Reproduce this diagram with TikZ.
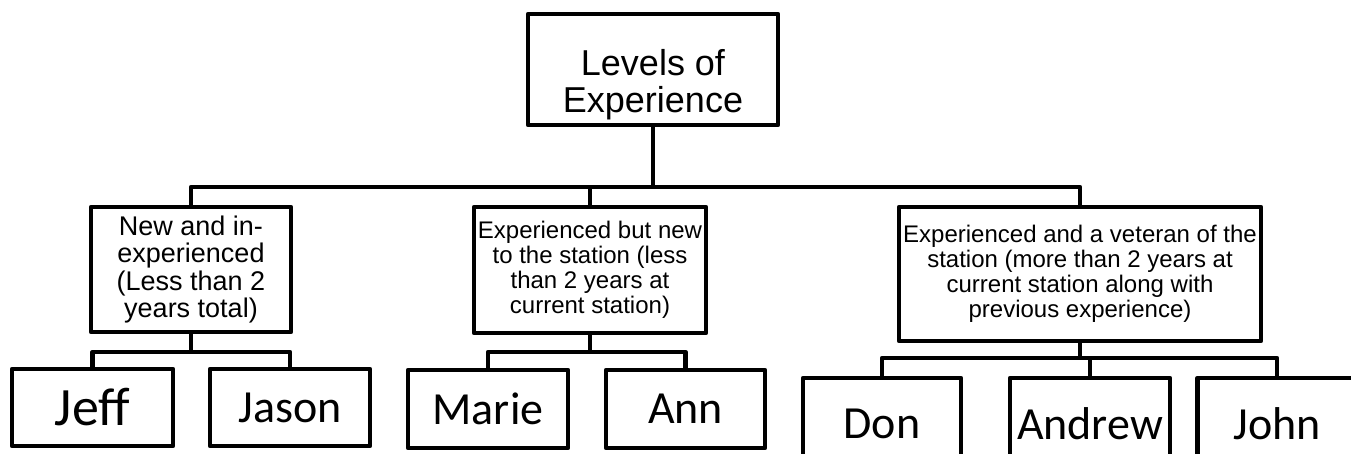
\documentclass[tikz,border=0pt]{standalone}
\usepackage{fontspec}
\setmainfont{Liberation Sans}
\newfontfamily\namefont{Carlito}
\usepackage{tikz}

\tikzset{
  lvlbox/.style={draw, line width=4.5pt, line join=round, inner sep=0pt, align=center},
  namebox/.style={lvlbox, font=\namefont\fontsize{46}{50}\selectfont},
  link/.style={line width=4.5pt, line join=round},
}

\begin{document}
\begin{tikzpicture}[x=1pt,y=1pt,yscale=-1,xscale=1]
\path[use as bounding box, clip] (0,0) rectangle (1351,453);

% Top box
\node [lvlbox, minimum width=250, minimum height=111] (top) at (653,69.5) {};
\node [inner sep=0pt, align=center, font=\fontsize{36}{37}\selectfont] (toptxt) at (653,85) {Levels of\\Experience};

% Level boxes
\node [lvlbox, minimum width=200, minimum height=125, font=\fontsize{27}{27.5}\selectfont] (newexp) at (191,269.5)
  {New and in-\\experienced\\(Less than 2\\years total)};
\node [lvlbox, minimum width=232, minimum height=126, font=\fontsize{24}{25}\selectfont] (newstn) at (590,270)
  {Experienced but new\\to the station (less\\than 2 years at\\current station)};
\node [lvlbox, minimum width=362, minimum height=134, font=\fontsize{24}{25}\selectfont] (veteran) at (1080,274)
  {Experienced and a veteran of the\\station (more than 2 years at\\current station along with\\previous experience)};

% Name boxes
\node [namebox, minimum width=161, minimum height=77, font=\namefont\fontsize{54}{58}\selectfont] (jeff) at (92.5,407.5) {Jeff};
\node [namebox, minimum width=160, minimum height=77] (jason) at (290,407.5) {Jason};
\node [namebox, minimum width=160, minimum height=78] (marie) at (488,409) {Marie};
\node [namebox, minimum width=159, minimum height=78] (ann) at (685.5,409) {Ann};
\node [namebox, minimum width=158, minimum height=92] (don) at (882,424) {Don};
\node [namebox, minimum width=160, minimum height=92] (andrew) at (1090,424) {Andrew};
\node [namebox, minimum width=159, minimum height=92] (john) at (1277,424) {John};

% Bus lines
\coordinate (bus0) at (653,187);
\coordinate (bus1) at (192,352);
\coordinate (bus2) at (587,352);
\coordinate (bus3) at (1080,358);

%Straight Lines
\draw [link] (top.south) -- (bus0);
\draw [link] (newexp.north) |- (bus0) -| (veteran.north);
\draw [link] (newstn.north) -- (newstn.north |- bus0);
%Straight Lines
\draw [link] (newexp.south) -- (newexp.south |- bus1);
\draw [link] (jeff.north) |- (bus1) -| (jason.north);
%Straight Lines
\draw [link] (newstn.south) -- (newstn.south |- bus2);
\draw [link] (marie.north) |- (bus2) -| (ann.north);
%Straight Lines
\draw [link] (veteran.south) -- (veteran.south |- bus3);
\draw [link] (don.north) |- (bus3) -| (john.north);
\draw [link] (andrew.north) -- (andrew.north |- bus3);

\end{tikzpicture}
\end{document}
